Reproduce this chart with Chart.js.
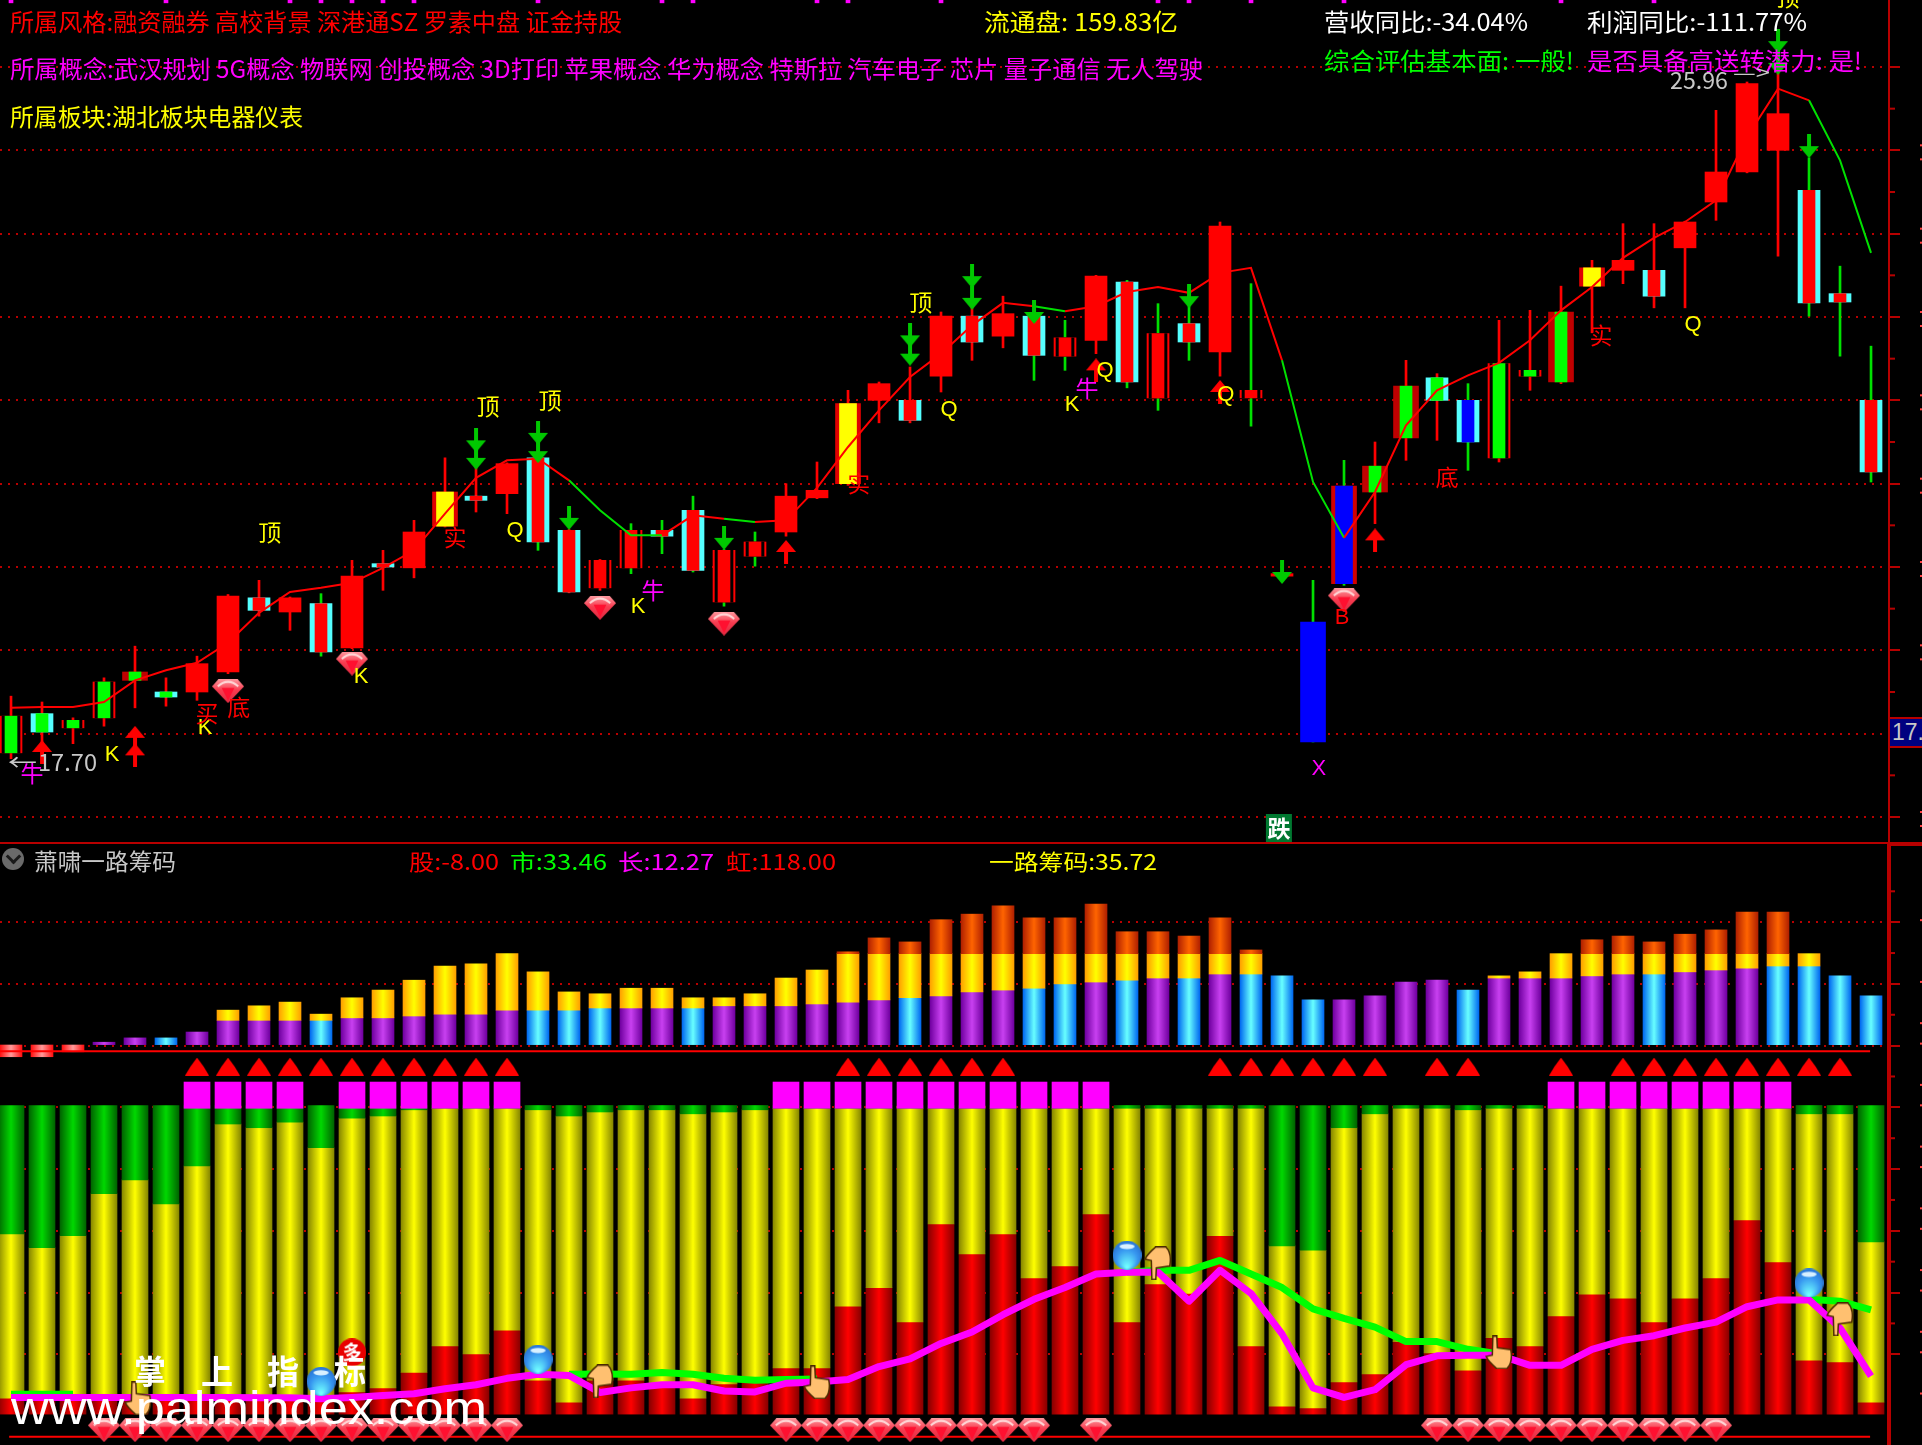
<!DOCTYPE html>
<html>
<head>
<meta charset="utf-8">
<title>萧啸一路筹码</title>
<script src="https://cdn.jsdelivr.net/npm/chart.js@4/dist/chart.umd.js"></script>
<style>
html, body { margin: 0; background: #000; width: 1922px; height: 1445px; overflow: hidden; }
canvas { position: absolute; left: 0; }
.t { position: absolute; white-space: pre; transform-origin: left center; font-family: "Noto Sans CJK SC", sans-serif; line-height: 1; z-index: 5; }
</style>
</head>
<body>
<canvas id="price" width="1922" height="843" style="top:0;width:1922px;height:843px"></canvas>
<canvas id="chips" width="1922" height="602" style="top:843px;width:1922px;height:602px"></canvas>
<script>
// candles, one entry per trading day
const bodyHigh = [18.21,18.24,18.16,18.62,18.74,18.50,18.84,19.65,19.63,19.63,19.56,19.89,20.04,20.42,20.90,20.85,21.24,21.31,20.44,20.08,20.44,20.44,20.68,20.20,20.30,20.85,20.92,21.96,22.20,22.00,23.01,23.01,23.04,23.01,22.75,23.49,23.42,22.80,22.92,24.09,22.12,19.92,19.34,20.97,21.21,22.17,22.27,22.00,22.44,22.36,23.06,23.59,23.68,23.56,24.14,24.74,25.80,25.44,24.52,23.28,22.00];
const bodyLow = [17.77,18.02,18.07,18.19,18.64,18.44,18.50,18.74,19.48,19.46,18.98,19.03,20.00,19.99,20.49,20.80,20.88,20.30,19.70,19.75,19.99,20.37,19.96,19.58,20.13,20.42,20.83,21.00,22.00,21.76,22.29,22.70,22.77,22.54,22.53,22.72,22.22,22.03,22.70,22.58,22.03,19.89,17.90,19.80,20.90,21.55,22.00,21.50,21.31,22.29,22.22,23.37,23.56,23.25,23.83,24.38,24.74,25.00,23.17,23.18,21.14];
const dayHigh = [18.45,18.38,18.19,18.67,19.05,18.67,18.93,19.67,19.84,19.64,19.68,20.08,20.20,20.56,21.31,21.28,21.25,21.32,20.45,20.09,20.52,20.56,20.85,20.21,20.42,21.00,21.26,22.12,22.22,22.40,23.06,23.20,23.25,23.20,22.96,23.50,23.44,23.16,23.35,24.14,23.40,19.93,19.84,21.28,21.50,22.48,22.32,22.20,22.96,23.08,23.37,23.68,24.12,24.12,24.15,25.48,25.82,25.96,24.91,23.61,22.65];
const dayLow = [17.70,17.86,17.88,18.09,18.31,18.33,18.40,18.72,19.41,19.24,18.93,19.02,19.72,19.87,20.48,20.66,20.64,20.20,19.69,19.72,19.92,20.16,19.94,19.53,20.01,20.37,20.82,20.98,21.73,21.73,22.10,22.48,22.63,22.24,22.36,22.56,22.15,21.88,22.48,22.29,21.69,19.88,17.90,19.78,20.52,21.28,21.52,21.16,21.26,22.12,22.20,22.81,23.40,23.11,23.11,24.16,24.73,23.73,23.01,22.53,21.02];
const candleKind = 'HGHHEGRRCRCRCRYCRCCFFCCFFRRYRCRCRCFRCFCRFRBMEEGDHHEYRCRRRRCCC';
const wickKind = 'rrrrrrrrrrgrrrrrrgrrgggggrrrrrrrrggrgggrgrggrrrgrrrrrrrrrrggg';
const maLine = [18.31,18.32,18.32,18.38,18.64,18.76,18.85,19.09,19.45,19.70,19.75,19.81,19.99,20.20,20.64,21.07,21.28,21.30,21.04,20.68,20.38,20.38,20.62,20.58,20.54,20.56,20.95,21.44,21.88,22.28,22.56,22.90,23.17,23.13,23.07,23.13,23.30,23.36,23.29,23.53,23.59,22.48,21.02,20.35,20.90,21.70,22.12,22.30,22.45,22.72,23.08,23.36,23.71,23.95,24.14,24.40,25.16,25.74,25.60,24.88,23.77];
const maFallingFrom = [18,19,20,23,33,41,42,58,59];
const topMarkBars = [0,5,9,10,11,12,13,17,21,22,26,27,30,37,38,40,43,50,53];
const priceTicks = [17,18,19,20,21,22,23,24,25,26];

// signals on the price panel: [day, price]
const downArrows = [[15,21.52],[15,21.31],[17,21.61],[17,21.39],[18,20.59],[23,20.35],[29,22.78],[29,22.56],[31,23.49],[31,23.23],[33,23.06],[38,23.25],[41,19.94],[57,26.31],[57,26.05],[58,25.05]];
const upArrows = [[1,17.78],[4,17.95],[4,17.74],[25,20.18],[35,22.36],[39,22.10],[44,20.32]];
const priceGems = [[7,18.51],[11,18.84],[19,19.51],[23,19.32],[43,19.60]];
const labelDing = [[29.35,23.18],[15.39,21.93],[17.39,22.00],[8.35,20.42],[57.32,26.84]];
const labelQ = [[30.26,21.88],[35.29,22.35],[39.19,22.06],[54.26,22.90],[16.26,20.43]];
const labelK = [[3.26,17.74],[6.26,18.07],[11.29,18.68],[20.23,19.52],[34.23,21.94]];
const labelNiu = [[0.68,17.53],[20.71,19.72],[34.71,22.15]];
const labelShi = [[14.32,20.36],[27.35,21.01],[51.29,22.78]];
const labelMai = [[6.32,18.25]];
const labelDi = [[7.35,18.32],[46.32,21.08]];
const labelB = [[42.94,19.39]];
const labelX = [[42.19,17.58]];
const labelDie = [40.9,16.88];

// upper stack of the chip panel, tops of each layer
const upperBase = [0,0,0,1.1,2.5,2.5,4.4,8.2,8.2,8.2,8.2,9,9,9.6,10.2,10.2,11.5,11.5,11.5,12.2,12.2,12.2,12.2,12.9,12.9,12.9,13.5,14.1,14.8,15.5,16.1,17.4,18,18.6,20,20.6,21.2,21.9,21.9,23.2,23.2,22.6,14.8,14.8,16.1,20.6,21.2,18,21.9,21.9,21.9,22.6,23.2,23.2,23.9,24.5,25.1,25.8,25.8,22.6,16.1];
const upperMid = [0,0,0,0,0,0,0,11.5,12.9,14.1,10.2,15.5,18,21.2,25.8,26.5,29.8,23.9,17.4,16.8,18.6,18.6,15.5,15.5,16.8,21.9,24.5,29.8,29.8,29.8,29.8,29.8,29.8,29.8,29.8,29.8,29.8,29.8,29.8,29.8,29.8,0,0,0,0,0,0,0,22.6,23.9,29.8,29.8,29.8,29.8,29.8,29.8,29.8,29.8,29.8,0,0];
const upperTop = [0,0,0,0,0,0,0,0,0,0,0,0,0,0,0,0,0,0,0,0,0,0,0,0,0,0,0,30.4,34.9,33.6,40.8,42.6,45.3,41.4,41.4,45.9,36.9,36.9,35.5,41.4,31,0,0,0,0,0,0,0,0,0,0,34.3,35.5,33.6,36.1,37.5,43.3,43.3,0,0,0];
const blueBaseBars = [5,10,17,18,19,22,29,33,34,36,38,40,41,42,47,53,57,58,59,60];
const stubBars = [0,1,2];
const stubDepth = [-3.6,-3.6,-2];
const chipTicks = [-100,-80,-60,-40,-20,0,20,40];

// lower stack of the chip panel, 0-100
const redTop = [5.2,5,5,5,5,5,5,5,5,5,5.2,7.2,8.5,13.5,22.1,19.5,27.2,11,3.9,11,11,9.8,5.2,9.8,11,15,15,35,41,29.9,61.6,51.9,58.4,44.1,48,64.9,29.9,42.2,39.1,57.8,22.1,2.6,2,10.4,13,23.5,19.8,14.2,24.8,22.1,31.8,38.9,37.6,29.9,37.6,44.1,62.9,49.3,17.5,16.9,3.9];
const yellowTop = [58.4,53.9,57.8,71.4,75.9,68.1,80.4,94,92.8,94.6,86.3,95.9,96.6,98.6,99.1,99.1,99.1,98.6,96.6,97.9,98.6,98.6,97.3,97.9,98.6,99.1,99.1,99.1,99.1,99.1,99.1,99.1,99.1,99.1,99.1,99.1,99.1,99.1,99.1,99.1,99.1,54.5,53.1,92.8,97.3,99.1,99.1,98.6,99.1,99.1,99.1,99.1,99.1,99.1,99.1,99.1,99.1,99.1,97.3,97.3,55.8];
const pinkLine = [5.4,5.4,5.4,5.4,5.4,5.4,5.4,5.4,5.3,5.3,5,5.4,6,6.6,8.2,9.5,11.6,12.9,12.5,7,8.5,9.5,9.5,7.5,7.2,10,10.4,11.2,15.4,17.9,22.9,26.6,32.2,37.2,41,45.4,46,46,36.6,46.6,39.1,26,8.5,5.4,7.9,16,18.9,19.1,19.1,15.8,15.8,21,23.9,25.4,27.9,29.8,34.8,37,37,27.9,12.3];
const greenLine = [6.4,6.4,6.4,null,null,null,null,null,null,null,null,null,null,null,null,null,null,null,12.9,13,12.9,13.5,12.9,11.6,11,11.2,11.4,null,null,null,null,null,null,null,null,null,46,46.6,46.6,49.8,45.4,41,34.1,31,28.2,23.5,23.5,21,19.5,null,null,null,null,null,null,null,null,null,37.2,36.6,33.8];
const magentaBars = [6,7,8,9,11,12,13,14,15,16,25,26,27,28,29,30,31,32,33,34,35,50,51,52,53,54,55,56,57];
const triangleBars = [6,7,8,9,10,11,12,13,14,15,16,27,28,29,30,31,32,39,40,41,42,43,44,46,47,50,52,53,54,55,56,57,58,59];
const gemBars = [3,4,5,6,7,8,9,10,11,12,13,14,15,16,25,26,27,28,29,30,31,32,33,35,46,47,48,49,50,51,52,53,54,55];
const balloons = [[10,10.6],[17,17.8],[36,51.5],[58,42.5]];
const handsUp = [[4.1,5.1],[26,10.3],[48,20]];
const handsDown = [[19,10.6],[37,48.9],[59,30.7]];
const coins = [[11,20]];

const RED = '#ff0000', GREEN = '#00ff00', CYAN = '#55ffff', BLUE = '#0000ff', YELLOW = '#ffff00', AXIS = '#b80000';
const days = bodyHigh.map((_, i) => i);

function icon(w, h, draw) {
    const c = document.createElement('canvas');
    c.width = w; c.height = h;
    draw(c.getContext('2d'), w, h);
    return c;
}
function poly(g, pts, fill) {
    g.beginPath();
    pts.forEach((p, i) => i ? g.lineTo(p[0], p[1]) : g.moveTo(p[0], p[1]));
    g.closePath();
    g.fillStyle = fill;
    g.fill();
}
const downIcon = icon(20, 24, (g, w, h) => {
    g.fillStyle = '#00c800'; g.fillRect(w / 2 - 2, 0, 4, 13);
    poly(g, [[0, 12], [w, 12], [w / 2, h]], '#00c800');
});
const upIcon = icon(20, 24, (g, w, h) => {
    g.fillStyle = RED; g.fillRect(w / 2 - 2, 11, 4, 13);
    poly(g, [[w / 2, 0], [w, 12], [0, 12]], RED);
});
const triIcon = icon(24, 18, (g, w, h) => {
    g.beginPath(); g.moveTo(w / 2, 0);
    g.quadraticCurveTo(w * 0.8, h * 0.5, w, h); g.lineTo(0, h);
    g.quadraticCurveTo(w * 0.2, h * 0.5, w / 2, 0);
    g.fillStyle = RED; g.fill();
});
const gemIcon = icon(32, 24, (g, w, h) => {
    const outline = [[w * 0.2, 0], [w * 0.8, 0], [w, h * 0.3], [w / 2, h], [0, h * 0.3]];
    const grad = g.createLinearGradient(0, 0, 0, h);
    grad.addColorStop(0, '#ff9aa0'); grad.addColorStop(0.45, '#f83c50'); grad.addColorStop(1, '#e02840');
    poly(g, outline, grad);
    g.strokeStyle = '#ffd8d8'; g.lineWidth = 2;
    g.beginPath(); g.moveTo(w * 0.18, h * 0.3); g.quadraticCurveTo(w / 2, -h * 0.08, w * 0.82, h * 0.3); g.stroke();
    poly(g, [[w * 0.3, h * 0.36], [w * 0.7, h * 0.36], [w / 2, h * 0.9]], '#ff1030');
});
const balloonIcon = icon(29, 29, (g, w, h) => {
    const grad = g.createRadialGradient(w / 2, h * 0.92, 1, w / 2, h * 0.45, h * 0.62);
    grad.addColorStop(0, '#70ffff'); grad.addColorStop(0.55, '#3898f0'); grad.addColorStop(1, '#2060c8');
    g.beginPath(); g.ellipse(w / 2, h / 2, w / 2, h / 2, 0, 0, 7); g.fillStyle = grad; g.fill();
    g.beginPath(); g.ellipse(w / 2, h * 0.2, w * 0.26, h * 0.09, 0, 0, 7); g.fillStyle = '#d8f0ff'; g.fill();
});
const drawHand = (g, w, h) => {
    g.strokeStyle = '#4a2a00'; g.lineWidth = 1.5;
    g.fillStyle = '#ffc070';
    g.beginPath();
    g.moveTo(w * 0.28, h * 0.02); g.lineTo(w * 0.42, h * 0.02); g.lineTo(w * 0.44, h * 0.36);
    g.lineTo(w * 0.92, h * 0.42); g.quadraticCurveTo(w, h * 0.8, w * 0.78, h * 0.98);
    g.lineTo(w * 0.42, h * 0.98); g.quadraticCurveTo(w * 0.1, h * 0.75, w * 0.04, h * 0.62);
    g.lineTo(w * 0.26, h * 0.58);
    g.closePath(); g.fill(); g.stroke();
};
const handUpIcon = icon(28, 34, drawHand);
const handDownIcon = icon(28, 34, (g, w, h) => { g.translate(0, h); g.scale(1, -1); drawHand(g, w, h); });
const coinIcon = icon(28, 28, (g, w, h) => {
    g.beginPath(); g.arc(w / 2, h / 2, w / 2, 0, 7); g.fillStyle = '#e80000'; g.fill();
    g.fillStyle = '#fff'; g.font = 'bold 19px "Noto Sans CJK SC"'; g.textAlign = 'center'; g.textBaseline = 'middle';
    g.fillText('多', w / 2, h / 2);
});

// horizontal shading of the round bars
function cylinder(edge, mid, width) {
    return c => {
        if (c.type !== 'data' || !c.raw) return mid;
        const x = c.chart.scales.x.getPixelForValue(c.raw.x);
        if (!isFinite(x)) return mid;
        const g = c.chart.ctx.createLinearGradient(x - width / 2, 0, x + width / 2, 0);
        g.addColorStop(0, edge); g.addColorStop(0.5, mid); g.addColorStop(1, edge);
        return g;
    };
}
function barLayer(data, width, color, order, yAxisID) {
    return { type: 'bar', data, barThickness: width, maxBarThickness: width, grouped: false, backgroundColor: color,
        borderWidth: 0, order, yAxisID, barPercentage: 1, categoryPercentage: 1 };
}
function iconLayer(points, image, order, yAxisID) {
    return { type: 'scatter', data: points.map(p => ({ x: p[0], y: p[1] })), pointStyle: image, pointRadius: 10, order, yAxisID };
}
const xAxis = () => ({ type: 'linear', display: false, min: -0.355, max: 60.58, bounds: 'data', offset: false, grid: { display: false, offset: false } });
const rightAxis = (min, max, tickValues, borderWidth) => ({
    position: 'right', min, max, bounds: 'data',
    ticks: { display: false, stepSize: tickValues[1] - tickValues[0], includeBounds: false },
    grid: { color: AXIS, lineWidth: 2, tickColor: AXIS, tickWidth: 2, tickLength: 11, tickBorderDash: [] },
    border: { color: AXIS, width: borderWidth, dash: [2, 6] },
    afterFit: s => { s.width = 33; },
    afterBuildTicks: s => { s.ticks = tickValues.map(value => ({ value })); }
});
// short ticks between the long ones, plus the clipped remains of the scale text
const sideMarks = (axisId, step, lo, hi, nudge) => ({
    id: 'sideMarks',
    afterDraw(chart) {
        const s = chart.scales[axisId], g = chart.ctx;
        g.save();
        for (let v = lo; v <= hi; v += step) {
            const y = s.getPixelForValue(v);
            g.fillStyle = AXIS; g.fillRect(1889, s.getPixelForValue(v + step / 2) - 1, 6, 2);
            g.fillStyle = '#ff4040'; g.fillRect(1920, y + nudge[0], 2, 2); g.fillRect(1920, y + nudge[1], 2, 2);
        }
        g.restore();
    }
});

const candle = i => ({ x: i, y: [bodyLow[i], bodyHigh[i]], k: candleKind[i] });
const pickKinds = kinds => days.filter(i => kinds.includes(candleKind[i])).map(candle);
const outerColour = { R: RED, C: CYAN, G: CYAN, F: RED, H: RED, D: CYAN, E: '#c00000', Y: '#e00000', M: '#d00000', B: BLUE };
const innerColour = { C: RED, G: GREEN, F: RED, H: GREEN, D: BLUE, E: GREEN, Y: YELLOW, M: BLUE };
const byKind = table => c => table[c.raw ? c.raw.k : 'R'];

const markGroups = [
    { text: '顶', color: YELLOW, at: labelDing }, { text: 'Q', color: YELLOW, at: labelQ }, { text: 'K', color: YELLOW, at: labelK },
    { text: '牛', color: '#ff00ff', at: labelNiu }, { text: '实', color: RED, at: labelShi }, { text: '买', color: RED, at: labelMai },
    { text: '底', color: RED, at: labelDi }, { text: 'B', color: RED, at: labelB }, { text: 'X', color: '#ff00ff', at: labelX }
];
const priceLabels = {
    id: 'priceLabels',
    afterDatasetsDraw(chart) {
        const g = chart.ctx, xs = chart.scales.x, ys = chart.scales.y;
        g.save();
        g.textAlign = 'center'; g.textBaseline = 'middle';
        markGroups.forEach(m => {
            g.fillStyle = m.color;
            g.font = /[A-Z]/.test(m.text) ? '22px "Liberation Sans"' : '23px "Noto Sans CJK SC"';
            m.at.forEach(p => g.fillText(m.text, xs.getPixelForValue(p[0]), ys.getPixelForValue(p[1])));
        });
        const dx = xs.getPixelForValue(labelDie[0]), dy = ys.getPixelForValue(labelDie[1]);
        g.fillStyle = '#007830'; g.fillRect(dx - 13, dy - 13, 26, 29);
        g.fillStyle = '#fff'; g.font = 'bold 23px "Noto Sans CJK SC"'; g.fillText('跌', dx, dy + 1);
        g.restore();
    }
};

new Chart(document.getElementById('price'), {
    type: 'bar',
    data: { datasets: [
        iconLayer(downArrows, downIcon, 0, 'y'),
        iconLayer(upArrows, upIcon, 0, 'y'),
        iconLayer(priceGems, gemIcon, 0, 'y'),
        { type: 'line', data: days.map(i => ({ x: i, y: maLine[i] })), borderColor: RED, borderWidth: 2, pointRadius: 0, tension: 0, order: 1,
          segment: { borderColor: c => maFallingFrom.includes(c.p0DataIndex) ? '#00e000' : RED } },
        barLayer(topMarkBars.map(i => ({ x: i, y: [26.77, 26.81] })), 4, '#ff00ff', 2, 'y'),
        barLayer(pickKinds('CGFHDE'), 12, byKind(innerColour), 3, 'y'),
        barLayer(pickKinds('YM'), 17, byKind(innerColour), 3, 'y'),
        barLayer(pickKinds('FH'), 18, '#000', 4, 'y'),
        barLayer(pickKinds('RCGFHD'), 22, byKind(outerColour), 5, 'y'),
        barLayer(pickKinds('EYMB'), 25, byKind(outerColour), 5, 'y'),
        barLayer(days.map(i => ({ x: i, y: [dayLow[i], dayHigh[i]] })), 2, c => (c.raw && wickKind[c.raw.x] === 'g') ? '#00e000' : RED, 6, 'y')
    ] },
    options: {
        responsive: false, animation: false, events: [],
        layout: { autoPadding: false },
        plugins: { legend: { display: false }, tooltip: { enabled: false } },
        scales: { x: xAxis(), y: rightAxis(16.688, 26.804, priceTicks, 2) }
    },
    plugins: [priceLabels, sideMarks('y', 1, 17, 25, [-6, 8])]
});

const upperColour = { p: ['#7000a0', '#c840f0'], b: ['#0068f0', '#68ffff'] };
const baseBars = kind => days.filter(i => upperBase[i] > 0 && (blueBaseBars.includes(i) ? 'b' : 'p') === kind).map(i => ({ x: i, y: [0, upperBase[i]] }));
const hasLayer = (top, below) => days.filter(i => top[i] > below[i]).map(i => ({ x: i, y: [below[i], top[i]] }));

new Chart(document.getElementById('chips'), {
    type: 'bar',
    data: { datasets: [
        iconLayer(balloons, balloonIcon, 0, 'yLow'),
        iconLayer(handsUp, handUpIcon, 0, 'yLow'),
        iconLayer(handsDown, handDownIcon, 0, 'yLow'),
        iconLayer(coins, coinIcon, 0, 'yLow'),
        { type: 'line', data: days.map(i => ({ x: i, y: pinkLine[i] })), borderColor: '#ff00ff', borderWidth: 7, pointRadius: 0, tension: 0, order: 1, yAxisID: 'yLow', borderJoinStyle: 'round' },
        { type: 'line', data: days.map(i => ({ x: i, y: greenLine[i] })), borderColor: GREEN, borderWidth: 7, pointRadius: 0, tension: 0, order: 2, yAxisID: 'yLow', borderJoinStyle: 'round' },
        iconLayer(triangleBars.map(i => [i, 112.6]), triIcon, 3, 'yLow'),
        iconLayer(gemBars.map(i => [i, -5.2]), gemIcon, 3, 'yLow'),
        { type: 'line', data: [{ x: -0.06, y: -7.3 }, { x: 59.97, y: -7.3 }], borderColor: RED, borderWidth: 2, pointRadius: 0, order: 4, yAxisID: 'yLow' },
        { type: 'line', data: [{ x: -0.36, y: -1.8 }, { x: 59.97, y: -1.8 }], borderColor: RED, borderWidth: 2, pointRadius: 0, order: 4, yAxisID: 'y' },
        barLayer(magentaBars.map(i => ({ x: i, y: [99.1, 107.6] })), 26, '#ff00ff', 4, 'yLow'),
        barLayer(days.map(i => ({ x: i, y: [yellowTop[i], 100] })), 26, cylinder('#006400', '#00d800', 26), 5, 'yLow'),
        barLayer(days.map(i => ({ x: i, y: [redTop[i], yellowTop[i]] })), 26, cylinder('#888800', '#ffff00', 26), 5, 'yLow'),
        barLayer(days.map(i => ({ x: i, y: [0, redTop[i]] })), 26, cylinder('#880000', '#ff0000', 26), 5, 'yLow'),
        barLayer(hasLayer(upperTop, upperMid), 22, cylinder('#b02000', '#ff6400', 22), 5, 'y'),
        barLayer(hasLayer(upperMid, upperBase), 22, cylinder('#ffa000', '#ffff00', 22), 5, 'y'),
        barLayer(baseBars('p'), 22, cylinder(upperColour.p[0], upperColour.p[1], 22), 5, 'y'),
        barLayer(baseBars('b'), 22, cylinder(upperColour.b[0], upperColour.b[1], 22), 5, 'y'),
        barLayer(stubBars.map((b, n) => ({ x: b, y: [stubDepth[n], 0.2] })), 22, cylinder('#ff1010', '#ff9a9a', 22), 5, 'y')
    ] },
    options: {
        responsive: false, animation: false, events: [],
        layout: { autoPadding: false },
        plugins: { legend: { display: false }, tooltip: { enabled: false } },
        scales: {
            x: xAxis(),
            y: rightAxis(-129.4, 65.65, chipTicks, 4),
            yLow: { display: false, min: -10.01, max: 185.06, bounds: 'data' }
        }
    },
    plugins: [sideMarks('y', 20, -100, 40, [-3, 100])]
});

// captions, squeezed or stretched to the widths in the picture
function caption(text, x, y, endX, color, size, family, weight) {
    const el = document.createElement('span');
    el.className = 't';
    el.textContent = text;
    el.style.cssText = 'left:' + x + 'px;top:' + y + 'px;color:' + color + ';font-size:' + size + 'px;' + (family ? 'font-family:' + family + ';' : '') + (weight ? 'font-weight:' + weight + ';' : '');
    document.body.appendChild(el);
    const k = (endX - x) / el.getBoundingClientRect().width;
    el.style.transform = 'translateY(-50%) scaleX(' + k + ')';
}
caption('所属风格:融资融券 高校背景 深港通SZ 罗素中盘 证金持股', 10, 21, 622, RED, 24);
caption('所属概念:武汉规划 5G概念 物联网 创投概念 3D打印 苹果概念 华为概念 特斯拉 汽车电子 芯片 量子通信 无人驾驶', 10, 68, 1203, '#ff00ff', 24);
caption('所属板块:湖北板块电器仪表', 10, 116, 303, YELLOW, 24);
caption('流通盘: 159.83亿', 984, 21, 1178, YELLOW, 24);
caption('营收同比:-34.04%', 1324, 21, 1528, '#fff', 24);
caption('利润同比:-111.77%', 1587, 21, 1807, '#fff', 24);
caption('综合评估基本面: 一般!', 1324, 60, 1574, GREEN, 24);
caption('是否具备高送转潜力: 是!', 1587, 60, 1862, '#ff00ff', 24);
caption('25.96', 1670, 79, 1728, '#c8c8c8', 23);
caption('—>', 1733, 72, 1770, '#c8c8c8', 20);
caption('←', 8, 760, 37, '#c8c8c8', 22);
caption('17.70', 38, 761, 97, '#c8c8c8', 23);
caption('萧啸一路筹码', 34, 860, 176, '#c8c8c8', 23);
caption('股:-8.00', 409, 860, 499, RED, 22);
caption('市:33.46', 510, 860, 607, GREEN, 22);
caption('长:12.27', 618, 860, 714, '#ff00ff', 22);
caption('虹:118.00', 726, 860, 836, RED, 22);
caption('一路筹码:35.72', 989, 860, 1157, YELLOW, 22);
['掌', '上', '指', '标'].forEach((ch, n) => caption(ch, 134 + 66.5 * n, 1370, 166 + 66.5 * n, '#fff', 33, null, 700));
caption('www.palmindex.com', 11, 1408, 487, '#fff', 46, '"Liberation Sans"');

// frame bits that are not on a scale
function block(css, html) {
    const d = document.createElement('div');
    d.style.cssText = 'position:absolute;z-index:4;' + css;
    if (html) d.innerHTML = html;
    document.body.appendChild(d);
}
block('left:0;top:842px;width:1890px;height:2px;background:' + AXIS);
block('left:1890px;top:842px;width:32px;height:4px;background:' + AXIS);
block('left:1890px;top:717px;width:32px;height:27px;background:#000080;border-top:2px solid ' + AXIS + ';border-bottom:2px solid ' + AXIS + ';overflow:hidden;color:#c8c8c8;font:23px "Liberation Sans";line-height:27px;white-space:nowrap;padding-left:2px;box-sizing:content-box', '17.');
block('left:2px;top:848px;width:22px;height:22px;border-radius:11px;background:#6a6a6a');
block('left:8px;top:851px;width:8px;height:8px;border-right:3px solid #1a1a1a;border-bottom:3px solid #1a1a1a;transform:rotate(45deg)');
</script>
</body>
</html>
